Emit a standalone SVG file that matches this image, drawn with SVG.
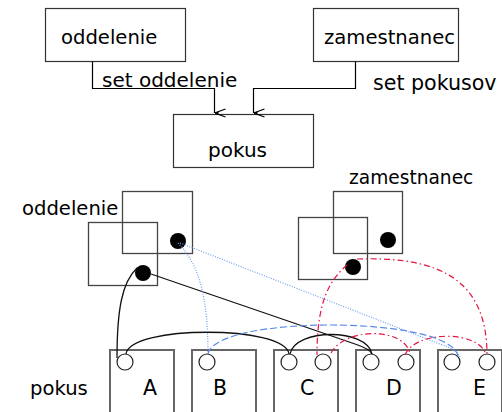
<svg xmlns="http://www.w3.org/2000/svg" width="502" height="412" viewBox="0 0 502 412">
  <style>
    text { font-family: "DejaVu Sans", "Liberation Sans", sans-serif; font-size: 19.6px; fill: #000; }
    .letter { font-size: 20.5px; }
    .box { fill: #fff; stroke: #333; stroke-width: 1.2; }
    .obj { fill: none; stroke: #444; stroke-width: 1.3; }
    .slot { fill: #fff; stroke: #666; stroke-width: 2; }
    .ref { fill: #fff; stroke: #222; stroke-width: 1.2; }
    .dot { fill: #000; }
    .wire { fill: none; stroke: #111; stroke-width: 1.3; }
    .link { fill: none; stroke: #000; stroke-width: 1.2; }
    .blue-dot { fill: none; stroke: #6e9cf2; stroke-width: 1.2; stroke-dasharray: 1 1.5; }
    .blue-dash { fill: none; stroke: #5a8ae8; stroke-width: 1.2; stroke-dasharray: 7 3; }
    .red { fill: none; stroke: #e4153f; stroke-width: 1.2; stroke-dasharray: 6 3 1.5 3; }
  </style>
  <defs>
    <marker id="arr" viewBox="0 0 10 12" refX="5" refY="12" markerWidth="10" markerHeight="12" markerUnits="userSpaceOnUse" orient="auto-start-reverse">
      <path d="M1,1 L5,12 L9,1" fill="none" stroke="#000" stroke-width="1.2"/>
      <path d="M3.5,8 L5,12 L6.5,8 Z" fill="#000"/>
    </marker>
  </defs>

  <!-- class diagram -->
  <g id="cls-oddelenie">
    <rect class="box" x="45.5" y="8.5" width="140" height="53"/>
    <text x="61" y="44">oddelenie</text>
  </g>
  <g id="cls-zamestnanec">
    <rect class="box" x="313.5" y="8.5" width="145" height="53"/>
    <text x="324" y="44">zamestnanec</text>
  </g>
  <g id="cls-pokus">
    <rect class="box" x="173.5" y="114.5" width="140" height="53"/>
    <text x="208" y="157" style="font-size:20px">pokus</text>
  </g>
  <g id="class-links">
    <path class="link" d="M92.5,61.5 V88.5 H214.5 V113" marker-end="url(#arr)"/>
    <path class="link" d="M355.5,61.5 V88.5 H253.5 V113" marker-end="url(#arr)"/>
    <text x="102" y="87" style="font-size:20px">set oddelenie</text>
    <text x="373" y="90" style="font-size:20.6px">set pokusov</text>
  </g>

  <!-- object instances -->
  <g id="obj-oddelenie">
    <text x="22" y="215">oddelenie</text>
    <rect class="obj" x="122.5" y="191.5" width="70" height="62"/>
    <rect class="obj" x="88.5" y="222.5" width="69" height="63"/>
    <circle class="dot" cx="178" cy="241" r="8"/>
    <circle class="dot" cx="143" cy="273" r="8"/>
  </g>
  <g id="obj-zamestnanec">
    <text x="349" y="184" style="font-size:18.6px">zamestnanec</text>
    <rect class="obj" x="333.5" y="191.5" width="69" height="62"/>
    <rect class="obj" x="298.5" y="217.5" width="69" height="62"/>
    <circle class="dot" cx="388" cy="240" r="8"/>
    <circle class="dot" cx="353" cy="267" r="8"/>
  </g>

  <g id="obj-pokus">
    <text x="30" y="395">pokus</text>
    <g id="pokus-a">
      <rect class="slot" x="110" y="350" width="64" height="70"/>
      <circle class="ref" cx="125" cy="362" r="8"/>
      <text class="letter" x="143" y="395">A</text>
    </g>
    <g id="pokus-b">
      <rect class="slot" x="192" y="350" width="64" height="70"/>
      <circle class="ref" cx="207" cy="362" r="8"/>
      <text class="letter" x="213" y="395">B</text>
    </g>
    <g id="pokus-c">
      <rect class="slot" x="274" y="350" width="64" height="70"/>
      <circle class="ref" cx="289" cy="362" r="8"/>
      <circle class="ref" cx="323" cy="362" r="8"/>
      <text class="letter" x="300" y="395">C</text>
    </g>
    <g id="pokus-d">
      <rect class="slot" x="356" y="350" width="64" height="70"/>
      <circle class="ref" cx="371" cy="362" r="8"/>
      <circle class="ref" cx="406" cy="362" r="8"/>
      <text class="letter" x="386" y="395">D</text>
    </g>
    <g id="pokus-e">
      <rect class="slot" x="438" y="350" width="64" height="70"/>
      <circle class="ref" cx="452" cy="362" r="8"/>
      <circle class="ref" cx="487" cy="362" r="8"/>
      <text class="letter" x="473" y="395">E</text>
    </g>
  </g>

  <!-- object references -->
  <g id="connectors">
    <path class="wire" d="M137,268 C122,282 117,310 117,358"/>
    <path class="wire" d="M151,274 L355,344 Q370,349 372,354"/>
    <path class="wire" d="M126,354 C130,325 285,325 289,354"/>
    <path class="wire" d="M290,354 C295,328 367,328 372,354"/>
    <path class="blue-dot" d="M178,243 C200,265 208,300 208,354"/>
    <path class="blue-dot" d="M180,243 L440,344 Q458,350 460,357"/>
    <path class="blue-dash" d="M208,354 C215,315 450,315 458,356"/>
    <path class="red" d="M347,265 C330,280 317,300 317,355"/>
    <path class="red" d="M357,259 C440,256 487,280 487,355"/>
    <path class="red" d="M331,353 C345,327 405,327 410,354"/>
    <path class="red" d="M405,355 C415,330 480,330 486,355"/>
  </g>
</svg>
